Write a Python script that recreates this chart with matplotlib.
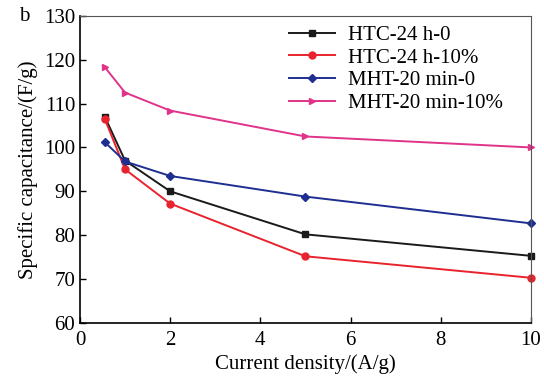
import matplotlib
matplotlib.use("Agg")
import matplotlib.pyplot as plt

plt.rcParams['font.family'] = ['Liberation Serif', 'DejaVu Serif']
plt.rcParams['mathtext.fontset'] = 'stix'

current = [0.55, 1, 2, 5, 10]
htc_0 = [107, 97, 90, 80.2, 75.3]
htc_10 = [106.5, 95, 87.2, 75.2, 70.3]
mht_0 = [101.2, 96.8, 93.5, 88.8, 82.7]
mht_10 = [118.3, 112.5, 108.4, 102.5, 100]

series = [
    ("HTC-24 h-0", htc_0, "#1a1a1a", "s"),
    ("HTC-24 h-10%", htc_10, "#e8232e", "o"),
    ("MHT-20 min-0", mht_0, "#1f2e91", "D"),
    ("MHT-20 min-10%", mht_10, "#e0338a", ">"),
]

fig = plt.figure(figsize=(5.44, 3.76), dpi=100)
ax = fig.add_axes([0.147, 0.141, 0.829, 0.817])

for name, vals, col, mk in series:
    ax.plot(current, vals, color=col, marker=mk, markersize=5 if mk != "D" else 4.5,
            linewidth=1.4, label=name, clip_on=False)

ax.set_xlim(0, 10)
ax.set_ylim(60, 130)
ax.set_xticks([0, 2, 4, 6, 8, 10])
ax.set_yticks(range(60, 131, 10))
ax.tick_params(direction='in', labelsize=15, length=4, width=1, top=False, right=False)
ax.tick_params(axis='x', pad=6)
for s in ['top', 'right']:
    ax.spines[s].set_color('#555555')
for s in ['left', 'bottom']:
    ax.spines[s].set_linewidth(1.2)

ax.set_xlabel("Current density/(A/g)", fontsize=15, labelpad=3)
ax.set_ylabel("Specific capacitance/(F/g)", fontsize=15, labelpad=4)
fig.text(0.035, 0.945, "b", fontsize=15)

ax.legend(loc='upper right', frameon=False, fontsize=15, handlelength=2.2,
          borderaxespad=0.2, labelspacing=0.15, handletextpad=0.6,
          bbox_to_anchor=(0.965, 1.01))

fig.savefig("out.png", dpi=100)
